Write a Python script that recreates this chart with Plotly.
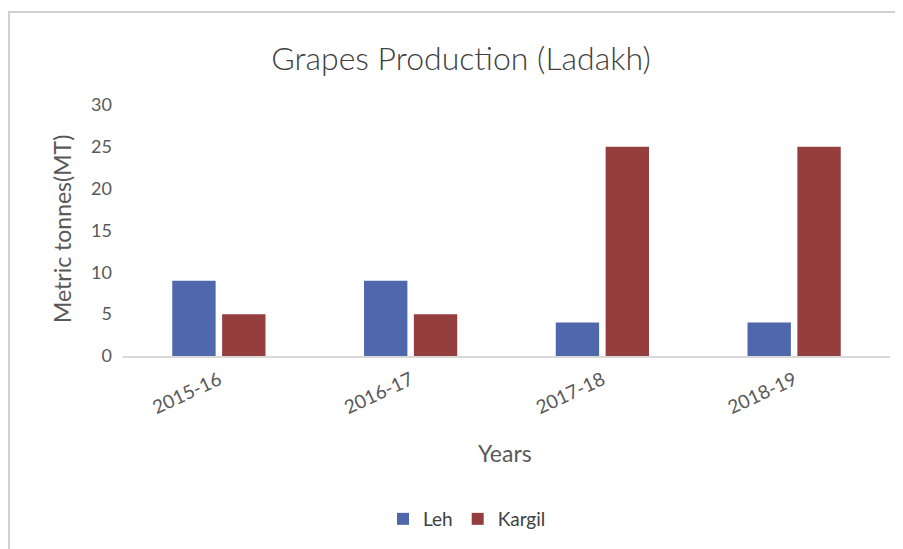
import plotly.graph_objects as go

years = ["2015-16", "2016-17", "2017-18", "2018-19"]
leh = [9, 9, 4, 4]
kargil = [5, 5, 25, 25]
y_ticks = [0, 5, 10, 15, 20, 25, 30]

OFF = 8  # default page body margin
W, H = 903, 549
L, T = 123 - OFF, 105 - OFF
pw, ph = 767, 251
R, B = W - L - pw, H - T - ph

def px_x(x):
    return (x - OFF - L) / pw

def px_y(y):
    return (T + ph - (y - OFF)) / ph

fig = go.Figure()
fig.add_trace(go.Bar(name="Leh", x=years, y=leh, marker=dict(color="#4F67AD", line=dict(width=0))))
fig.add_trace(go.Bar(name="Kargil", x=years, y=kargil, marker=dict(color="#943E3E", line=dict(width=0))))

font = "Lato, 'Open Sans', sans-serif"
fig.update_layout(
    width=W, height=H,
    margin=dict(l=L, r=R, t=T, b=B),
    paper_bgcolor="white", plot_bgcolor="white",
    barmode="group", bargap=0.48, bargroupgap=0.13,
    font=dict(family=font, color="#595959"),
    title=dict(text="Grapes Production (Ladakh)", x=px_x(461), xref="paper", xanchor="center",
               y=1 - (59 - OFF) / H, yanchor="middle",
               font=dict(size=32, color="#404040", family=font, weight=300)),
    showlegend=True,
    legend=dict(orientation="h", x=px_x(467), xanchor="center", y=px_y(519), yanchor="middle",
                itemwidth=30, font=dict(size=19, color="#404040"), traceorder="normal"),
    xaxis=dict(showgrid=False, showline=True, linecolor="#D9D9D9", linewidth=1.5, ticks="",
               tickangle=-25, ticklabelstandoff=4, tickfont=dict(size=19, color="#595959")),
    yaxis=dict(range=[0, 30], tickvals=y_ticks, showgrid=False, zeroline=False, showline=False,
               ticks="", ticklabelstandoff=10, tickfont=dict(size=18, color="#595959")),
    shapes=[dict(type="rect", xref="paper", yref="paper", x0=px_x(9), x1=1.5, y0=-2, y1=px_y(12),
                 line=dict(color="#D0D0D0", width=2), fillcolor="rgba(0,0,0,0)", layer="below")],
    annotations=[
        dict(text="Years", xref="paper", yref="paper", x=px_x(505), y=px_y(453), showarrow=False,
             font=dict(size=23, color="#595959"), xanchor="center", yanchor="middle"),
        dict(text="Metric tonnes(MT)", xref="paper", yref="paper", x=px_x(62), y=px_y(229), showarrow=False,
             textangle=-90, font=dict(size=23, color="#595959"), xanchor="center", yanchor="middle"),
    ],
)

fig.write_html("out.html")
